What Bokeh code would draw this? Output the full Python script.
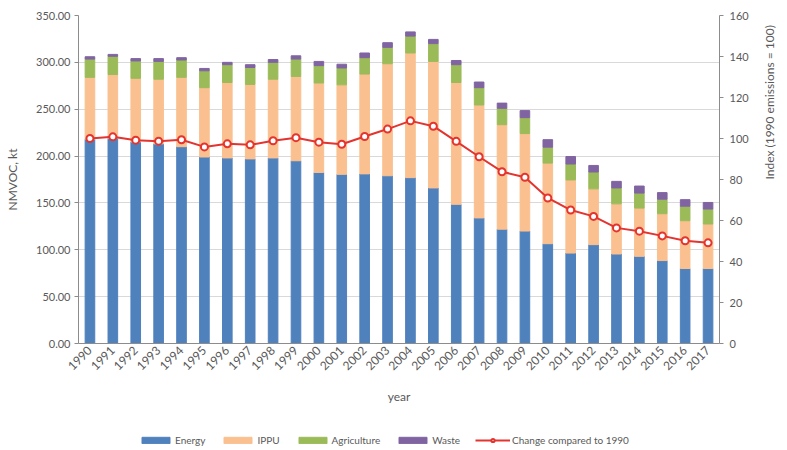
import math
from bokeh.plotting import figure
from bokeh.layouts import column
from bokeh.models import (ColumnDataSource, Range1d, LinearAxis, FactorRange, Legend,
                          LegendItem, NumeralTickFormatter, FixedTicker)
from bokeh.embed import file_html
from bokeh.resources import INLINE

years = [str(y) for y in range(1990, 2018)]
energy = [218, 219, 215, 213, 210, 199, 198, 197, 198, 195, 182.5, 180.5, 181, 179, 177, 166,
          148.5, 134, 122, 120, 106.5, 96.5, 105.5, 95.5, 93, 88.5, 80, 80]
ippu = [66, 68, 68, 69, 74, 74, 80.5, 79.5, 84, 90, 95.5, 95.5, 106.5, 119.5, 133, 135,
        130, 120.5, 111.5, 104, 86, 78, 59.5, 53.5, 51.5, 50, 51, 47.5]
agriculture = [19.5, 19.5, 18.5, 19, 18.5, 18, 19, 18, 18, 18.5, 18.5, 18, 17.5, 17.5, 18, 19,
               19, 18.5, 17.5, 17, 17, 17, 18, 17, 16, 15.5, 15.5, 16]
waste = [2.5, 2, 2.5, 3, 2.5, 2.5, 2.5, 3, 3, 3.5, 4.5, 4, 5, 5, 4.5, 4.5,
         4.5, 6, 5.5, 7.5, 8, 8, 7, 7, 7.5, 7, 7, 7]
index = [100, 100.8, 99.2, 98.7, 99.4, 95.9, 97.4, 96.9, 98.9, 100.4, 98.2, 97.2, 101, 104.6,
         108.6, 106, 98.6, 91.1, 83.8, 81.1, 71, 65.1, 62, 56.4, 54.8, 52.5, 50.1, 49.1]
left_ticks = [0, 50, 100, 150, 200, 250, 300, 350]
right_ticks = [0, 20, 40, 60, 80, 100, 120, 140, 160]
series_labels = ["Energy", "IPPU", "Agriculture", "Waste"]
line_label = "Change compared to 1990"

FONT = "Lato"
TXT = "#595959"
AX = "#8c8c8c"
COLORS = ["#4F81BD", "#FAC090", "#9BBB59", "#8064A2"]
RED = "#E3342F"

src = ColumnDataSource(dict(year=years, energy=energy, ippu=ippu, agri=agriculture,
                            waste=waste, index=index))
stack = ["energy", "ippu", "agri", "waste"]

p = figure(x_range=FactorRange(*years), y_range=Range1d(0, 350), width=787, height=420,
           output_backend="svg", toolbar_location=None,
           min_border_left=78, min_border_right=59, min_border_top=15, min_border_bottom=77)
p.outline_line_color = None

p.vbar_stack(stack, x="year", width=0.42, color=COLORS, source=src)

p.extra_y_ranges = {"idx": Range1d(0, 160)}
p.line(x="year", y="index", y_range_name="idx", source=src, line_color=RED, line_width=2)
p.scatter(x="year", y="index", y_range_name="idx", source=src, size=7,
          fill_color="white", line_color=RED, line_width=2)

# left axis
ya = p.yaxis[0]
ya.ticker = FixedTicker(ticks=left_ticks)
ya.formatter = NumeralTickFormatter(format="0.00")
ya.axis_label = "NMVOC, kt"
ya.axis_label_standoff = 13
ya.major_label_standoff = 4

# right axis
ra = LinearAxis(y_range_name="idx", ticker=FixedTicker(ticks=right_ticks))
ra.axis_label = "Index (1990 emissions = 100)"
ra.axis_label_standoff = 18
ra.major_label_standoff = 6
if "axis_label_orientation" in ra.properties():
    ra.axis_label_orientation = math.pi / 2
p.add_layout(ra, "right")

for ax in (ya, ra):
    ax.major_tick_out = 4
    ax.major_tick_in = 0
    ax.minor_tick_line_color = None
for ax in (ya, ra, p.xaxis[0]):
    ax.axis_line_color = AX
    ax.major_tick_line_color = AX
    ax.major_label_text_font = FONT
    ax.major_label_text_font_size = "11px"
    ax.major_label_text_color = TXT
    ax.axis_label_text_font = FONT
    ax.axis_label_text_font_size = "12px"
    ax.axis_label_text_color = TXT
    ax.axis_label_text_font_style = "normal"

xa = p.xaxis[0]
xa.major_label_orientation = math.pi / 4
xa.major_label_text_font_size = "12px"
xa.major_tick_line_color = None
xa.major_tick_out = 0
xa.major_label_standoff = 5
xa.axis_label = "year"
xa.axis_label_standoff = 12

p.xgrid.grid_line_color = None
p.ygrid.grid_line_color = "#D9D9D9"
p.ygrid.ticker = FixedTicker(ticks=left_ticks)

# legend strip: same series drawn out of view, legend in its frame
lf = figure(x_range=p.x_range, y_range=Range1d(1000, 1001), width=787, height=30,
            output_backend="svg", toolbar_location=None, x_axis_location=None,
            y_axis_location=None, min_border=0)
lf.outline_line_color = None
lf.grid.grid_line_color = None
lbars = lf.vbar_stack(stack, x="year", width=0.42, color=COLORS, source=src)
lln = lf.line(x="year", y="index", source=src, line_color=RED, line_width=2)
lsc = lf.scatter(x="year", y="index", source=src, size=7, fill_color="white",
                 line_color=RED, line_width=2)

items = [LegendItem(label=lab, renderers=[r]) for lab, r in zip(series_labels, lbars)]
items.append(LegendItem(label=line_label, renderers=[lln, lsc]))
legend = Legend(items=items, orientation="horizontal", location=(60, 4))
legend.glyph_width = 35
legend.glyph_height = 8
legend.label_height = 8
legend.label_standoff = 2
legend.spacing = 15
legend.padding = 3
legend.margin = 0
legend.border_line_color = None
legend.background_fill_alpha = 0
legend.label_text_font = FONT
legend.label_text_font_size = "10px"
legend.label_text_color = TXT
lf.add_layout(legend)

open("out.html", "w").write(file_html(column(p, lf, spacing=0), INLINE))
